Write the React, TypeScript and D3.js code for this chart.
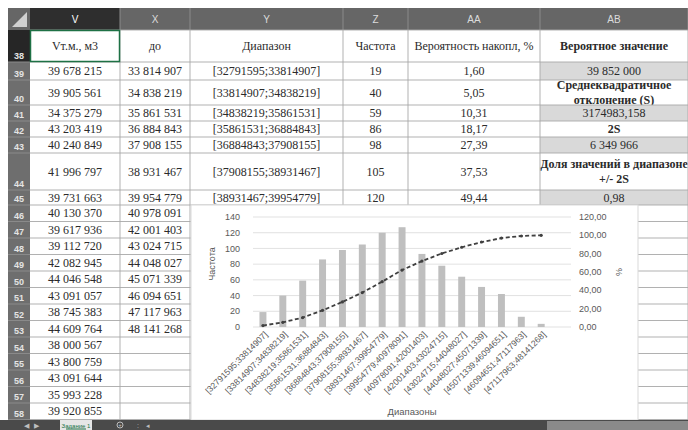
import React from "react";
import * as d3 from "d3";

// ─── Sheet data ───────────────────────────────────────────────────────────────
const volumes = [
  39678215, 39905561, 34375279, 43203419, 40240849, 41996797, 39731663,
  40130370, 39617936, 39112720, 42082945, 44046548, 43091057, 38745383,
  44609764, 38000567, 43800759, 43091644, 35993228, 39920855,
];
const upperBounds = [
  33814907, 34838219, 35861531, 36884843, 37908155, 38931467, 39954779,
  40978091, 42001403, 43024715, 44048027, 45071339, 46094651, 47117963,
  48141268,
];
const ranges = [
  "[32791595;33814907]", "[33814907;34838219]", "[34838219;35861531]",
  "[35861531;36884843]", "[36884843;37908155]", "[37908155;38931467]",
  "[38931467;39954779]", "[39954779;40978091]", "[40978091;42001403]",
  "[42001403;43024715]", "[43024715;44048027]", "[44048027;45071339]",
  "[45071339;46094651]", "[46094651;47117963]", "[47117963;48141268]",
];
const frequencies = [19, 40, 59, 86, 98, 105, 120, 127, 93, 78, 64, 51, 42, 13, 4];
const cumulative = [1.6, 5.05, 10.31, 18.17, 27.39, 37.53, 49.44, 62.1, 71.9, 80.2, 87.0, 92.7, 97.0, 99.3, 100.0];

const headerTexts = ["Vт.м., м3", "до", "Диапазон", "Частота", "Вероятность накопл, %"];
const statCells = [
  { lines: ["Вероятное значение"], bold: true },
  { lines: ["39 852 000"], fill: true },
  { lines: ["Среднеквадратичное", "отклонение (S)"], bold: true },
  { lines: ["3174983,158"], fill: true },
  { lines: ["2S"], bold: true },
  { lines: ["6 349 966"], fill: true },
  { lines: ["Доля значений в диапазоне", "+/- 2S"], bold: true },
  { lines: ["0,98"], fill: true },
];
const colLetters = ["V", "X", "Y", "Z", "AA", "AB"];
const rowNumbers = d3.range(38, 59);
const leftTicks = [0, 20, 40, 60, 80, 100, 120, 140];
const rightTicks = [0, 20, 40, 60, 80, 100, 120];

// ─── Layout ───────────────────────────────────────────────────────────────────
const W = 688;
const H = 430;
const COLS = [30, 120, 190, 343, 408, 540, 688];
const ROW_H = [32, 18, 25, 16, 16, 16, 37, 15, ...d3.range(13).map(() => 16.5)];
const ROWS = ROW_H.reduce((acc, h) => [...acc, acc[acc.length - 1] + h], [30]);
const CELL_FONT = "'Liberation Serif', 'Times New Roman', serif";
const UI_FONT = "'Liberation Sans', Arial, sans-serif";
const CELL_TEXT = "#2b2b2b";
const AXIS_TEXT = "#595959";

const CHART = { x: 191, y: 205, w: 447, h: 215 };
const PLOT = { left: 253, right: 571, top: 217, bottom: 327 };

const fmtInt = (v: number) => d3.format(",")(v).replace(/,/g, " ");
const fmtDec = (v: number) => d3.format(".2f")(v).replace(".", ",");

function Cell({ col, row, lines, bold, fill }: { col: number; row: number; lines: string[]; bold?: boolean; fill?: boolean }) {
  const x0 = COLS[col];
  const x1 = COLS[col + 1];
  const y0 = ROWS[row];
  const y1 = ROWS[row + 1];
  const cy = (y0 + y1) / 2;
  const lh = 15;
  return (
    <g>
      {fill && <rect x={x0} y={y0} width={x1 - x0} height={y1 - y0} fill="#d9d9d9" />}
      {lines.map((t, i) => (
        <text
          key={i}
          x={(x0 + x1) / 2}
          y={cy + (i - (lines.length - 1) / 2) * lh}
          dy="0.35em"
          textAnchor="middle"
          fontFamily={CELL_FONT}
          fontSize={12}
          fontWeight={bold ? 700 : 400}
          fill={CELL_TEXT}
        >
          {t}
        </text>
      ))}
    </g>
  );
}

function Chart() {
  const x = d3
    .scaleBand<string>()
    .domain([...ranges, ""])
    .range([PLOT.left, PLOT.right])
    .paddingInner(0.65)
    .paddingOuter(0.325);
  const yL = d3.scaleLinear().domain([0, 140]).range([PLOT.bottom, PLOT.top]);
  const yR = d3.scaleLinear().domain([0, 120]).range([PLOT.bottom, PLOT.top]);
  const cx = (r: string) => (x(r) ?? 0) + x.bandwidth() / 2;

  const line = d3
    .line<number>()
    .x((_, i) => cx(ranges[i]))
    .y((d) => yR(d));

  return (
    <g>
      <rect x={CHART.x} y={CHART.y} width={CHART.w} height={CHART.h} fill="#fff" stroke="#d9d9d9" />
      {leftTicks.map((t) => (
        <g key={t}>
          <line x1={PLOT.left} x2={PLOT.right} y1={yL(t)} y2={yL(t)} stroke="#d9d9d9" strokeWidth={0.8} />
          <text x={240} y={yL(t)} dy="0.35em" textAnchor="end" fontFamily={UI_FONT} fontSize={9} fill={AXIS_TEXT}>
            {t}
          </text>
        </g>
      ))}
      {rightTicks.map((t) => (
        <text key={t} x={579} y={yR(t)} dy="0.35em" fontFamily={UI_FONT} fontSize={9} fill={AXIS_TEXT}>
          {fmtDec(t)}
        </text>
      ))}
      {frequencies.map((f, i) => (
        <rect key={i} x={x(ranges[i])} y={yL(f)} width={x.bandwidth()} height={yL(0) - yL(f)} fill="#bfbfbf" />
      ))}
      <path d={line(cumulative) ?? ""} fill="none" stroke="#404040" strokeWidth={1.8} strokeDasharray="4,2.5" />
      {cumulative.map((c, i) => (
        <circle key={i} cx={cx(ranges[i])} cy={yR(c)} r={1.6} fill="#404040" />
      ))}
      {ranges.map((r) => (
        <text
          key={r}
          transform={`translate(${cx(r) + 3},${PLOT.bottom + 6}) rotate(-45)`}
          textAnchor="end"
          dy="0.35em"
          fontFamily={UI_FONT}
          fontSize={8.6}
          fill={AXIS_TEXT}
        >
          {r}
        </text>
      ))}
      <text transform={`translate(212,${(PLOT.top + PLOT.bottom) / 2 - 8}) rotate(-90)`} textAnchor="middle" dy="0.35em" fontFamily={UI_FONT} fontSize={9} fill={AXIS_TEXT}>
        Частота
      </text>
      <text transform={`translate(619,${(PLOT.top + PLOT.bottom) / 2}) rotate(-90)`} textAnchor="middle" dy="0.35em" fontFamily={UI_FONT} fontSize={9} fill={AXIS_TEXT}>
        %
      </text>
      <text x={(PLOT.left + PLOT.right) / 2} y={412} textAnchor="middle" dy="0.35em" fontFamily={UI_FONT} fontSize={9.5} fill={AXIS_TEXT}>
        Диапазоны
      </text>
    </g>
  );
}

export default function App() {
  const dataRows = volumes.map((_, i) => i + 1);
  return (
    <svg width={W} height={H} style={{ display: "block", position: "absolute", left: 0, top: 0 }}>
      <rect width={W} height={H} fill="#fff" />

      {/* column headers */}
      <rect x={8} y={8} width={W - 8} height={22} fill="#666" />
      <rect x={COLS[0]} y={8} width={COLS[1] - COLS[0]} height={22} fill="#2e2e2e" />
      <path d="M27,12 L27,27 L12,27 Z" fill="#d0d0d0" />
      {colLetters.map((c, i) => (
        <g key={c}>
          <line x1={COLS[i + 1]} x2={COLS[i + 1]} y1={8} y2={30} stroke="#8a8a8a" />
          <text x={(COLS[i] + COLS[i + 1]) / 2} y={19} dy="0.35em" textAnchor="middle" fontFamily={UI_FONT} fontSize={10} fill={i === 0 ? "#fff" : "#dcdcdc"}>
            {c}
          </text>
        </g>
      ))}

      {/* row headers */}
      <rect x={8} y={30} width={22} height={ROWS[ROWS.length - 1] - 30} fill="#6e6e6e" />
      <rect x={8} y={ROWS[0]} width={22} height={ROWS[1] - ROWS[0]} fill="#262626" />
      {rowNumbers.map((n, i) => (
        <g key={n}>
          <line x1={8} x2={30} y1={ROWS[i + 1]} y2={ROWS[i + 1]} stroke="#8a8a8a" />
          <text x={19} y={ROWS[i + 1] - 3} textAnchor="middle" fontFamily={UI_FONT} fontSize={9} fontWeight={700} fill="#e4e4e4">
            {n}
          </text>
        </g>
      ))}

      {/* cell contents */}
      {headerTexts.map((t, c) => (
        <Cell key={t} col={c} row={0} lines={[t]} />
      ))}
      {statCells.map((s, r) => (
        <Cell key={r} col={5} row={r} lines={s.lines} bold={s.bold} fill={s.fill} />
      ))}
      {dataRows.map((r) => (
        <g key={r}>
          <Cell col={0} row={r} lines={[fmtInt(volumes[r - 1])]} />
          {r <= upperBounds.length && <Cell col={1} row={r} lines={[fmtInt(upperBounds[r - 1])]} />}
          {r <= 7 && <Cell col={2} row={r} lines={[ranges[r - 1]]} />}
          {r <= 7 && <Cell col={3} row={r} lines={[String(frequencies[r - 1])]} />}
          {r <= 7 && <Cell col={4} row={r} lines={[fmtDec(cumulative[r - 1])]} />}
        </g>
      ))}

      {/* grid */}
      {ROWS.map((y, i) => (
        <line key={`h${i}`} x1={30} x2={W} y1={y} y2={y} stroke="#a8a8a8" strokeWidth={0.9} />
      ))}
      {COLS.slice(1).map((x, i) => (
        <line key={`v${i}`} x1={x} x2={x} y1={30} y2={ROWS[ROWS.length - 1]} stroke="#a8a8a8" strokeWidth={0.9} />
      ))}
      <rect x={COLS[0] + 0.5} y={ROWS[0] + 0.5} width={COLS[1] - COLS[0] - 1} height={ROWS[1] - ROWS[0] - 1} fill="none" stroke="#1e7145" strokeWidth={1.5} />

      <Chart />

      {/* sheet tab bar */}
      <rect x={0} y={420} width={W} height={10} fill="#4a4a4a" />
      <rect x={547} y={421} width={W - 547} height={9} fill="#8a8a8a" />
      <text x={24} y={428} fontFamily={UI_FONT} fontSize={7} fill="#bdbdbd">◀</text>
      <text x={34} y={428} fontFamily={UI_FONT} fontSize={7} fill="#bdbdbd">▶</text>
      <rect x={60} y={420} width={32} height={10} fill="#e6e6e6" />
      <text x={76} y={427.5} textAnchor="middle" fontFamily={UI_FONT} fontSize={6} fill="#217346">
        Задание 1
      </text>
      <line x1={66} x2={86} y1={429} y2={429} stroke="#217346" strokeWidth={1} />
      <circle cx={120} cy={425} r={3} fill="none" stroke="#bdbdbd" />
      <text x={120} y={427.3} textAnchor="middle" fontFamily={UI_FONT} fontSize={6} fill="#bdbdbd">+</text>
      <text x={137} y={428} fontFamily={UI_FONT} fontSize={7} fill="#bdbdbd">:</text>
      <text x={146} y={428} fontFamily={UI_FONT} fontSize={7} fill="#bdbdbd">◂</text>
    </svg>
  );
}
